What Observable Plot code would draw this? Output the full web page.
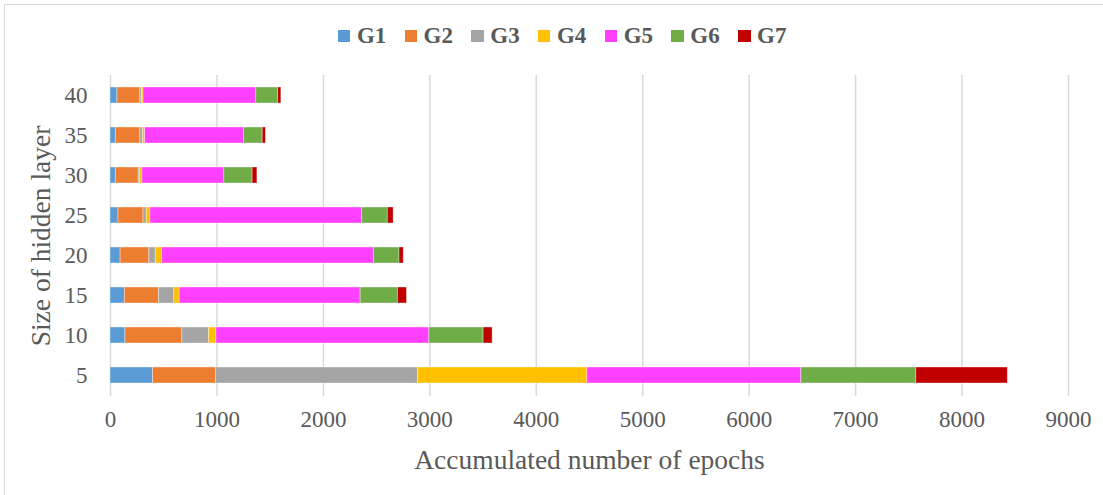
<!DOCTYPE html>
<html>
<head>
<meta charset="utf-8">
<script src="https://cdn.jsdelivr.net/npm/d3@7"></script>
<script src="https://cdn.jsdelivr.net/npm/@observablehq/plot@0.6"></script>
<style>
  html, body { margin: 0; padding: 0; background: white; }
  #wrap { position: relative; width: 1103px; height: 495px; overflow: hidden; background: white;
          font-family: "Liberation Serif", "Times New Roman", serif; }
  #frame { position: absolute; left: 4px; top: 4px; width: 1200px; height: 600px; border: 1px solid #d9d9d9;
           background: transparent; z-index: 10; pointer-events: none; }
  #legend { position: absolute; left: 338px; top: 24px; height: 24px; display: flex; align-items: center; }
  .item { display: inline-flex; align-items: center; width: 66.7px; }
  .sw { width: 12.4px; height: 12.4px; margin-right: 6.5px; }
  .lab { font-weight: bold; font-size: 23px; color: #595959; line-height: 24px; }
  #chart { position: absolute; left: 0; top: 60px; }
</style>
</head>
<body>
<div id="wrap">
  <div id="legend"></div>
  <div id="chart"></div>
  <div id="frame"></div>
</div>
<script>
const sizes = ["5", "10", "15", "20", "25", "30", "35", "40"];
const groups = ["G1", "G2", "G3", "G4", "G5", "G6", "G7"];
const colors = ["#5b9bd5", "#ed7d31", "#a5a5a5", "#ffc000", "#ff40ff", "#70ad47", "#c00000"];

const G1 = [400, 140, 135, 95, 75, 50, 50, 65];
const G2 = [590, 535, 320, 270, 235, 215, 230, 215];
const G3 = [1900, 250, 145, 60, 30, 10, 25, 15];
const G4 = [1590, 70, 50, 60, 35, 25, 20, 15];
const G5 = [2010, 2000, 1700, 1990, 1990, 770, 930, 1060];
const G6 = [1080, 510, 350, 240, 240, 265, 175, 205];
const G7 = [860, 85, 85, 40, 55, 45, 30, 30];

const xTicks = [0, 1000, 2000, 3000, 4000, 5000, 6000, 7000, 8000, 9000];
const xLabel = "Accumulated number of epochs";
const yLabel = "Size of hidden layer";

const series = [G1, G2, G3, G4, G5, G6, G7];
const data = sizes.flatMap((s, i) => groups.map((g, j) => ({size: s, group: g, value: series[j][i]})));

// legend
const legend = document.getElementById("legend");
groups.forEach((g, j) => {
  const it = document.createElement("div");
  it.className = "item";
  const sw = document.createElement("div");
  sw.className = "sw";
  sw.style.background = colors[j];
  const lb = document.createElement("span");
  lb.className = "lab";
  lb.textContent = g;
  it.appendChild(sw);
  it.appendChild(lb);
  legend.appendChild(it);
});

const chart = Plot.plot({
  width: 1103,
  height: 435,
  marginTop: 15,
  marginBottom: 99,
  marginLeft: 110,
  marginRight: 35,
  style: {fontFamily: '"Liberation Serif", "Times New Roman", serif', fontSize: "23px", color: "#595959", background: "transparent"},
  x: {domain: [0, 9000]},
  y: {domain: sizes.slice().reverse(), paddingInner: 0.59, paddingOuter: 0.295},
  color: {domain: groups, range: colors},
  marks: [
    Plot.ruleX(xTicks, {stroke: "#d9d9d9", strokeWidth: 1.5}),
    Plot.barX(data, {x: "value", y: "size", fill: "group", stroke: "white", strokeOpacity: 0.45, strokeWidth: 0.8}),
    Plot.axisX({ticks: xTicks, tickSize: 0, tickPadding: 14, tickFormat: d => String(d),
                label: xLabel, labelArrow: "none", labelAnchor: "center", labelOffset: 72}),
    Plot.axisY({tickSize: 0, tickPadding: 23, label: yLabel, labelArrow: "none", labelAnchor: "center", labelOffset: 80})
  ]
});
d3.select(chart).selectAll('g[aria-label="x-axis label"] text, g[aria-label="y-axis label"] text')
  .style("font-size", "27.5px");
document.getElementById("chart").appendChild(chart);
</script>
</body>
</html>
